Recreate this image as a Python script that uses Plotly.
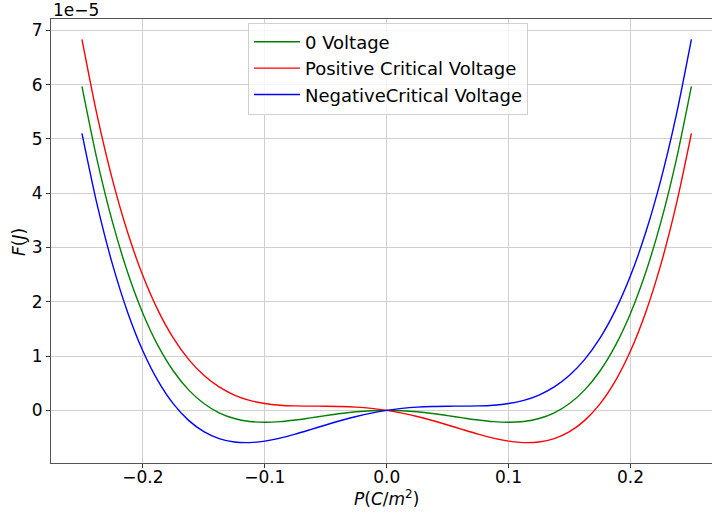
import plotly.graph_objects as go

# Polarization P (C/m^2)
P = [-0.25, -0.2375, -0.225, -0.2125, -0.2, -0.1875, -0.175, -0.1625, -0.15, -0.1375,
     -0.125, -0.1125, -0.1, -0.0875, -0.075, -0.0625, -0.05, -0.0375, -0.025, -0.0125,
     0.0, 0.0125, 0.025, 0.0375, 0.05, 0.0625, 0.075, 0.0875, 0.1, 0.1125,
     0.125, 0.1375, 0.15, 0.1625, 0.175, 0.1875, 0.2, 0.2125, 0.225, 0.2375, 0.25]

# Free energy F (units of 1e-5 J)
F_zero = [5.9696, 4.6065, 3.4718, 2.5398, 1.7862, 1.1884, 0.7253, 0.3773, 0.1262, -0.0445,
          -0.1501, -0.2045, -0.2200, -0.2079, -0.1778, -0.1382, -0.0962, -0.0575, -0.0266, -0.0068,
          0.0, -0.0068, -0.0266, -0.0575, -0.0962, -0.1382, -0.1778, -0.2079, -0.2200, -0.2045,
          -0.1501, -0.0445, 0.1262, 0.3773, 0.7253, 1.1884, 1.7862, 2.5398, 3.4718, 4.6065, 5.9696]

F_pos = [6.8346, 5.4283, 4.2503, 3.2751, 2.4782, 1.8372, 1.3308, 0.9396, 0.6452, 0.4313,
         0.2824, 0.1848, 0.1260, 0.0949, 0.0817, 0.0781, 0.0768, 0.0723, 0.0599, 0.0365,
         0.0, -0.0501, -0.1131, -0.1873, -0.2692, -0.3545, -0.4373, -0.5107, -0.5660, -0.5938,
         -0.5826, -0.5203, -0.3928, -0.1850, 0.1198, 0.5396, 1.0942, 1.8045, 2.6933, 3.7847, 5.1046]

F_neg = [5.1046, 3.7847, 2.6933, 1.8045, 1.0942, 0.5396, 0.1198, -0.1850, -0.3928, -0.5203,
         -0.5826, -0.5938, -0.5660, -0.5107, -0.4373, -0.3545, -0.2692, -0.1873, -0.1131, -0.0501,
         0.0, 0.0365, 0.0599, 0.0723, 0.0768, 0.0781, 0.0817, 0.0949, 0.1260, 0.1848,
         0.2824, 0.4313, 0.6452, 0.9396, 1.3308, 1.8372, 2.4782, 3.2751, 4.2503, 5.4283, 6.8346]

series_names = ["0 Voltage", "Positive Critical Voltage", "NegativeCritical Voltage"]
series_colors = ["green", "red", "blue"]
series_values = [F_zero, F_pos, F_neg]

x_ticks = [-0.2, -0.1, 0.0, 0.1, 0.2]
x_ticktext = ["\u22120.2", "\u22120.1", "0.0", "0.1", "0.2"]
y_ticks = [0, 1, 2, 3, 4, 5, 6, 7]

FONT = "DejaVu Sans"

fig = go.Figure()
for name, color, vals in zip(series_names, series_colors, series_values):
    fig.add_trace(go.Scatter(x=P, y=vals, mode="lines", name=name,
                             line=dict(color=color, width=1.4, shape="spline", smoothing=0.8)))

fig.update_layout(
    width=712, height=514,
    margin=dict(l=51, r=0, t=19, b=51),
    paper_bgcolor="white", plot_bgcolor="white",
    font=dict(family=FONT, size=17, color="black"),
    showlegend=True,
    legend=dict(x=0.298, y=0.992, xanchor="left", yanchor="top",
                bgcolor="rgba(255,255,255,0.8)", bordercolor="#d0d0d0", borderwidth=1,
                font=dict(family=FONT, size=18), itemwidth=46, tracegroupgap=0),
    xaxis=dict(range=[-0.2754, 0.2669], tickvals=x_ticks, ticktext=x_ticktext,
               showgrid=True, gridcolor="#cfcfcf", gridwidth=1, zeroline=False,
               showline=True, linecolor="#555", linewidth=1, mirror=True,
               ticks="outside", ticklen=4, tickcolor="#333", ticklabelstandoff=-5),
    yaxis=dict(range=[-0.97, 7.21], tickvals=y_ticks,
               showgrid=True, gridcolor="#cfcfcf", gridwidth=1, zeroline=False,
               showline=True, linecolor="#555", linewidth=1,
               ticks="outside", ticklen=4, tickcolor="#333"),
    annotations=[
        dict(text="1e\u22125", xref="paper", yref="paper", x=0, y=1,
             xanchor="left", yanchor="bottom", showarrow=False, yshift=-3,
             font=dict(family=FONT, size=17)),
        dict(text="<i>P</i>(<i>C</i>/<i>m</i><sup>2</sup>)", xref="paper", yref="paper",
             x=0.5072, y=-0.078, xanchor="center", yanchor="middle", showarrow=False,
             font=dict(family=FONT, size=17)),
        dict(text="<i>F</i>(<i>J</i>)", xref="paper", yref="paper",
             x=-0.0484, y=0.4977, xanchor="center", yanchor="middle", showarrow=False,
             textangle=-90, font=dict(family=FONT, size=17)),
    ],
)

fig.write_html("out.html")
